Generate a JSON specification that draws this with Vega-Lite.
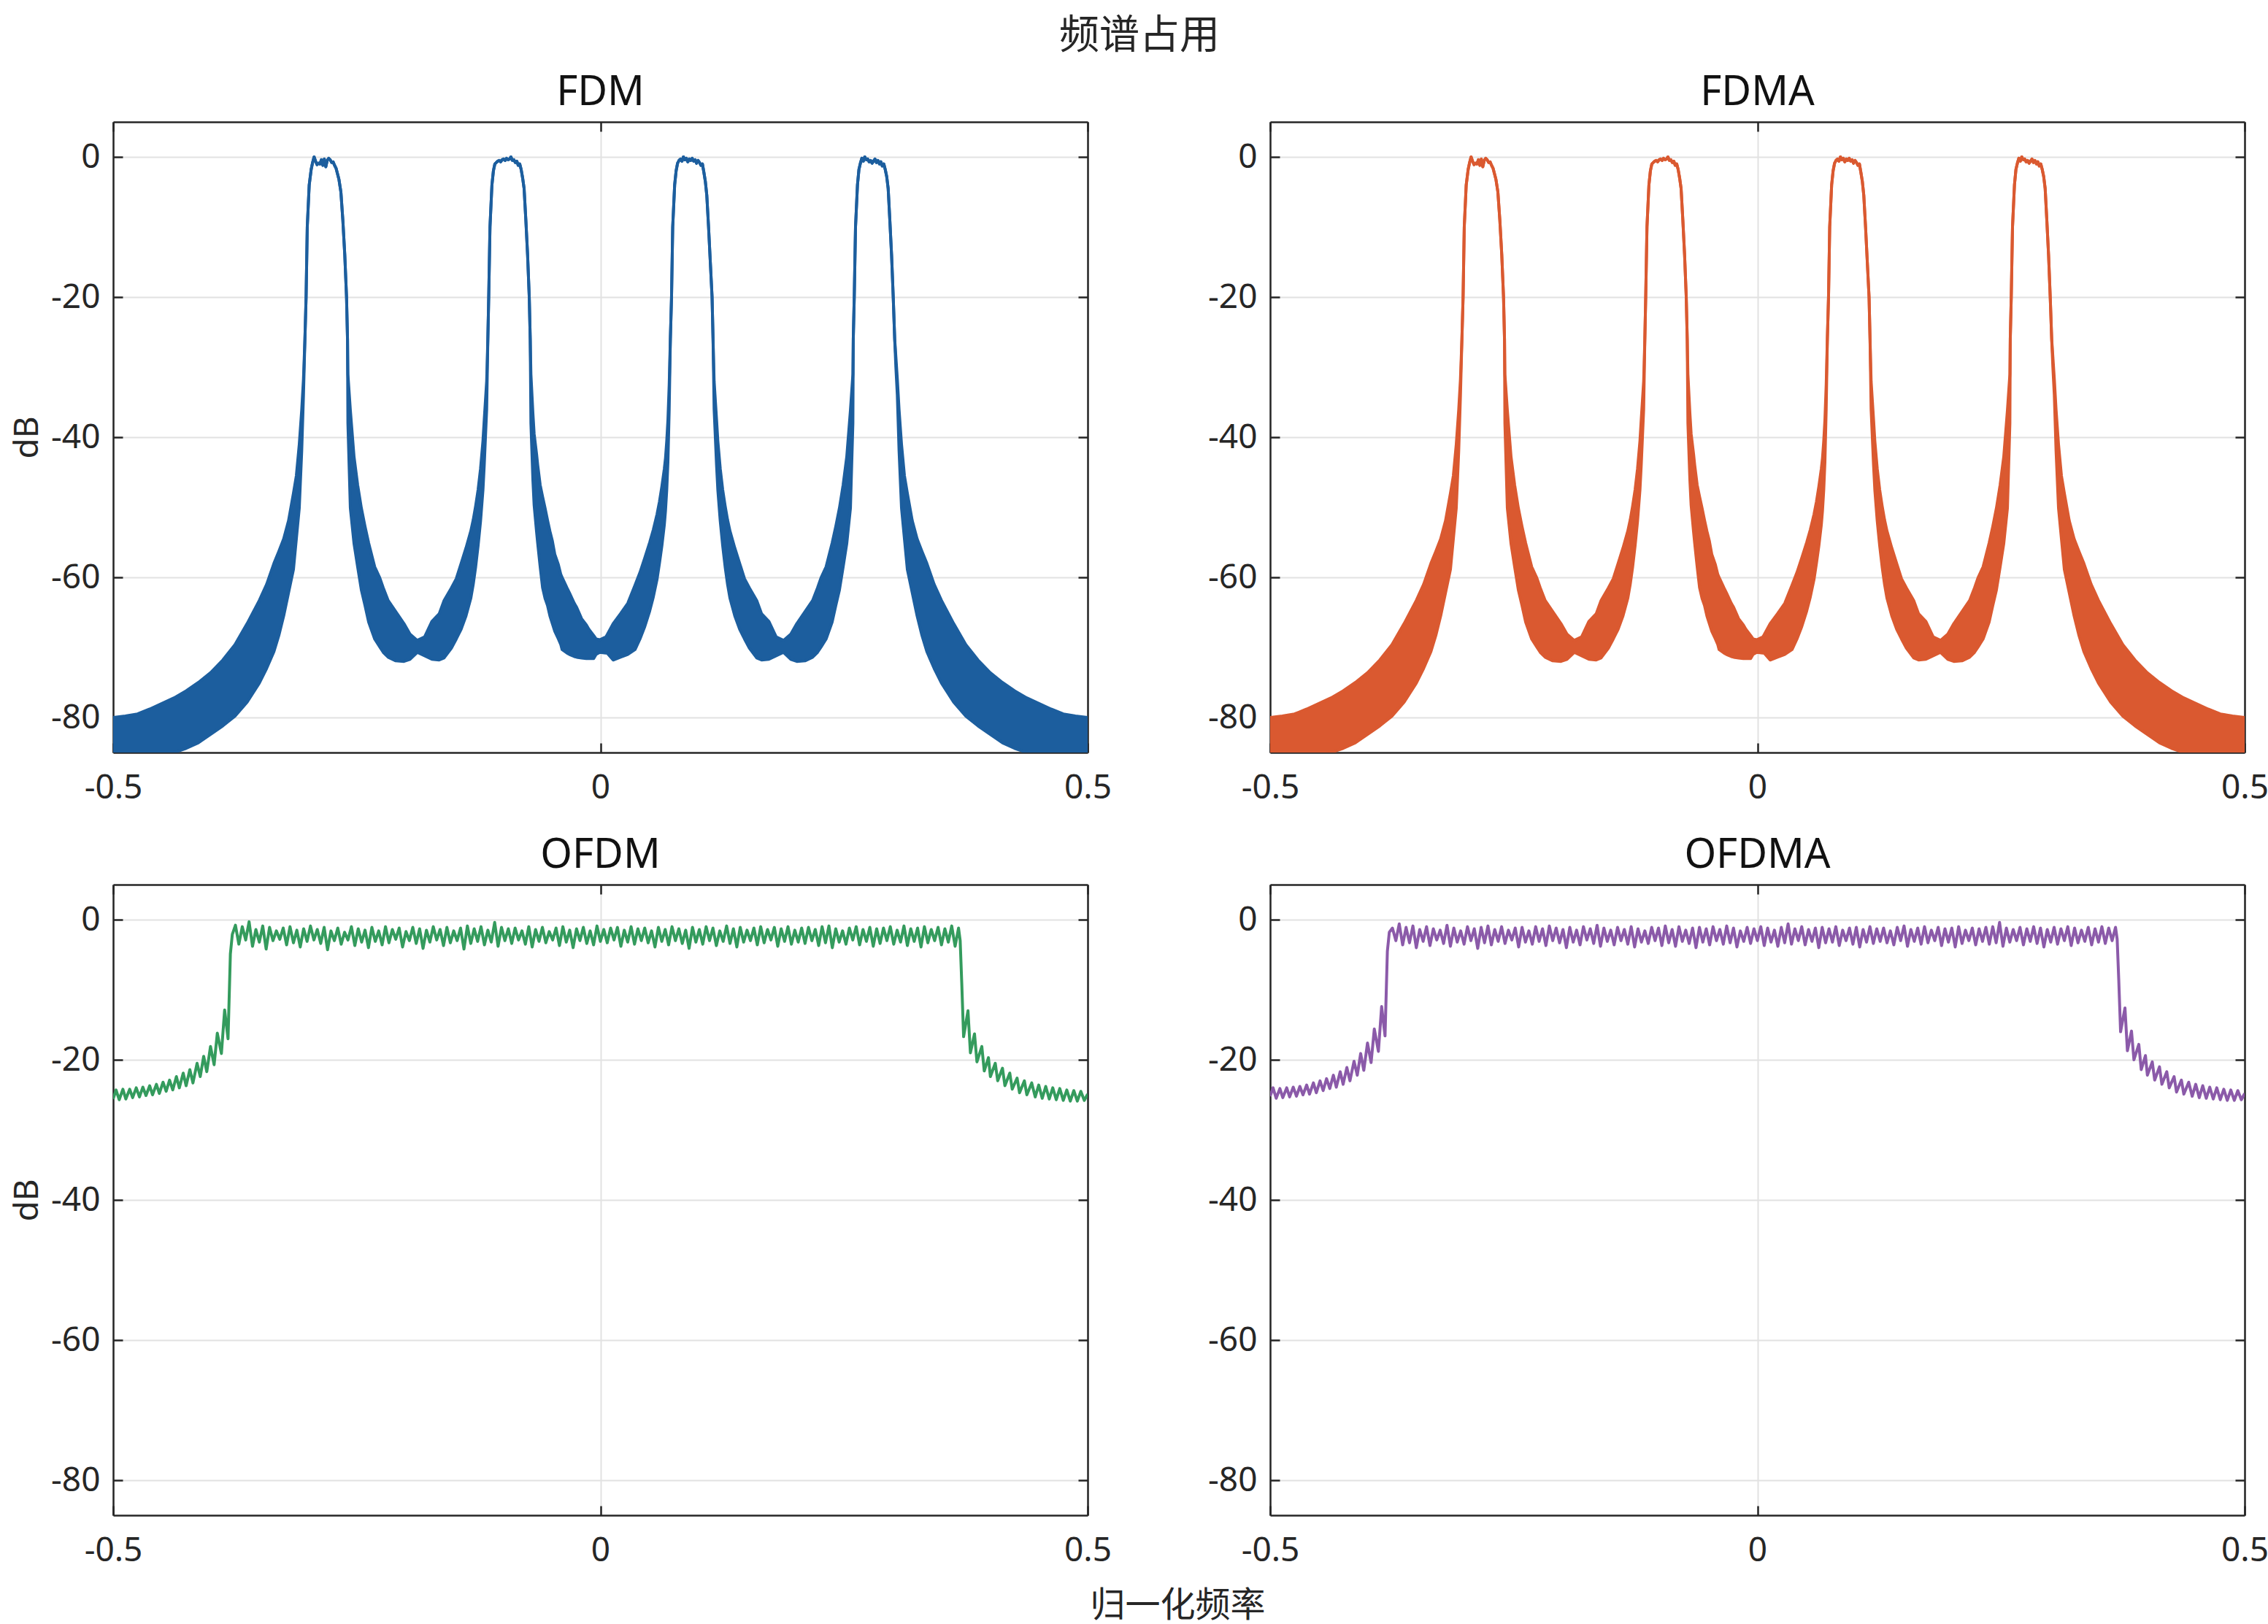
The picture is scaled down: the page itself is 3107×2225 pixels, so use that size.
{
  "$schema": "https://vega.github.io/schema/vega-lite/v6.json",
  "background": "white",
  "padding": {"left": 14, "top": 21, "right": 0, "bottom": 6},
  "title": {"text": "频谱占用", "font": "Noto Sans CJK SC", "fontSize": 55, "fontWeight": "normal", "color": "#262626", "anchor": "middle", "offset": 21},
  "config": {
    "view": {"stroke": null},
    "font": "Noto Sans",
    "title": {"font": "Noto Sans", "fontSize": 56, "fontWeight": "normal", "color": "#111111", "offset": 10},
    "axis": {
      "labelFont": "Noto Sans", "labelFontSize": 46, "labelColor": "#262626",
      "titleFont": "Noto Sans", "titleFontSize": 46, "titleFontWeight": "normal", "titleColor": "#262626",
      "domainColor": "#262626", "domainWidth": 2.5, "tickColor": "#262626", "tickWidth": 2.5, "tickSize": -13,
      "gridColor": "#e2e2e2", "gridWidth": 2, "labelFlush": false, "labelOverlap": false
    },
    "axisX": {"labelPadding": 39},
    "axisY": {"labelPadding": 31}
  },
  "datasets": {
    "fdm": [
      {"f":-0.5,"hi":-80.0,"lo":-87},{"f":-0.4875,"hi":-79.8,"lo":-87},{"f":-0.475,"hi":-79.5,"lo":-86.5},{"f":-0.4625,"hi":-78.8,"lo":-86},{"f":-0.45,"hi":-78.0,"lo":-85.6},{"f":-0.4375,"hi":-77.2,"lo":-85.0},{"f":-0.425,"hi":-76.2,"lo":-84.4},{"f":-0.4125,"hi":-75.0,"lo":-83.6},{"f":-0.4,"hi":-73.6,"lo":-82.4},{"f":-0.3875,"hi":-71.8,"lo":-81.2},{"f":-0.375,"hi":-69.6,"lo":-79.8},{"f":-0.3625,"hi":-66.6,"lo":-77.8},{"f":-0.35,"hi":-63.3,"lo":-75.1},{"f":-0.3425,"hi":-61.0,"lo":-73.0},{"f":-0.335,"hi":-58.0,"lo":-70.6},{"f":-0.33,"hi":-56.3,"lo":-68.3},{"f":-0.325,"hi":-54.5,"lo":-65.5},{"f":-0.32,"hi":-51.9,"lo":-62.2},{"f":-0.315,"hi":-48.0,"lo":-58.9},{"f":-0.312,"hi":-45.5,"lo":-54.5},{"f":-0.309,"hi":-41.0,"lo":-50.1},{"f":-0.3065,"hi":-36.1,"lo":-42},{"f":-0.3047,"hi":-31.7,"lo":-34},{"f":-0.3032,"hi":-26,"lo":-26},
      {"f":-0.302,"hi":-20,"lo":-20},{"f":-0.3008,"hi":-10,"lo":-10},{"f":-0.2988,"hi":-4,"lo":-4},{"f":-0.2968,"hi":-1.8,"lo":-1.8},{"f":-0.2953,"hi":-0.8,"lo":-0.8},{"f":-0.2938,"hi":0,"lo":0},{"f":-0.2923,"hi":-0.6,"lo":-0.6},{"f":-0.2908,"hi":-1.1,"lo":-1.1},{"f":-0.2893,"hi":-0.9,"lo":-0.9},{"f":-0.2878,"hi":-1.0,"lo":-1.0},{"f":-0.2863,"hi":-0.4,"lo":-0.4},{"f":-0.2848,"hi":-1.2,"lo":-1.2},{"f":-0.2833,"hi":-0.3,"lo":-0.3},{"f":-0.2818,"hi":-1.4,"lo":-1.4},{"f":-0.2803,"hi":-0.5,"lo":-0.5},{"f":-0.2788,"hi":-0.2,"lo":-0.2},{"f":-0.2773,"hi":-0.4,"lo":-0.4},{"f":-0.2758,"hi":-0.8,"lo":-0.8},{"f":-0.2743,"hi":-0.7,"lo":-0.7},{"f":-0.2728,"hi":-1.2,"lo":-1.2},{"f":-0.2713,"hi":-1.6,"lo":-1.6},{"f":-0.2698,"hi":-2.4,"lo":-2.4},{"f":-0.2683,"hi":-3.2,"lo":-3.2},{"f":-0.2663,"hi":-5,"lo":-5},{"f":-0.2643,"hi":-9,"lo":-9},{"f":-0.2623,"hi":-14,"lo":-14},{"f":-0.2605,"hi":-20,"lo":-20},{"f":-0.2595,"hi":-26,"lo":-26},
      {"f":-0.2591,"hi":-31,"lo":-38},{"f":-0.2566,"hi":-36.1,"lo":-50.1},{"f":-0.2528,"hi":-42.8,"lo":-55.2},{"f":-0.2491,"hi":-46.8,"lo":-58.5},{"f":-0.2453,"hi":-50.1,"lo":-61.8},{"f":-0.2416,"hi":-52.7,"lo":-64.0},{"f":-0.2378,"hi":-55.1,"lo":-66.4},{"f":-0.2316,"hi":-58.5,"lo":-68.8},{"f":-0.2266,"hi":-60.0,"lo":-69.9},{"f":-0.2228,"hi":-61.5,"lo":-70.7},{"f":-0.2178,"hi":-63.3,"lo":-71.4},{"f":-0.2104,"hi":-64.8,"lo":-71.9},{"f":-0.2016,"hi":-66.6,"lo":-72.0},{"f":-0.1954,"hi":-68.1,"lo":-71.7},{"f":-0.1879,"hi":-69.0,"lo":-70.7},{"f":-0.1804,"hi":-68.5,"lo":-71.2},{"f":-0.1729,"hi":-66.3,"lo":-71.7},{"f":-0.1654,"hi":-65.2,"lo":-71.8},{"f":-0.1604,"hi":-63.3,"lo":-71.5},{"f":-0.1529,"hi":-61.5,"lo":-70.1},{"f":-0.1479,"hi":-60.2,"lo":-68.8},{"f":-0.1429,"hi":-58.0,"lo":-67.4},{"f":-0.1379,"hi":-55.8,"lo":-65.5},{"f":-0.133,"hi":-53.4,"lo":-63.0},{"f":-0.1305,"hi":-51.8,"lo":-61.0},{"f":-0.128,"hi":-49.8,"lo":-58.5},{"f":-0.1255,"hi":-47.5,"lo":-55.5},{"f":-0.123,"hi":-44.5,"lo":-52.0},{"f":-0.1205,"hi":-40.5,"lo":-47.5},{"f":-0.1192,"hi":-37.5,"lo":-44.0},{"f":-0.1167,"hi":-32,"lo":-36},{"f":-0.1155,"hi":-26,"lo":-26},
      {"f":-0.1146,"hi":-20,"lo":-20},{"f":-0.1133,"hi":-10,"lo":-10},{"f":-0.1113,"hi":-4,"lo":-4},{"f":-0.1098,"hi":-2.0,"lo":-2.0},{"f":-0.1083,"hi":-1.0,"lo":-1.0},{"f":-0.1068,"hi":-0.8,"lo":-0.8},{"f":-0.1053,"hi":-0.6,"lo":-0.6},{"f":-0.1038,"hi":-0.5,"lo":-0.5},{"f":-0.1023,"hi":-0.7,"lo":-0.7},{"f":-0.1008,"hi":-0.4,"lo":-0.4},{"f":-0.0993,"hi":-0.3,"lo":-0.3},{"f":-0.0978,"hi":-0.5,"lo":-0.5},{"f":-0.0963,"hi":-0.2,"lo":-0.2},{"f":-0.0948,"hi":-0.4,"lo":-0.4},{"f":-0.0933,"hi":-0.3,"lo":-0.3},{"f":-0.0918,"hi":0,"lo":0},{"f":-0.0903,"hi":-0.5,"lo":-0.5},{"f":-0.0888,"hi":-0.4,"lo":-0.4},{"f":-0.0873,"hi":-0.8,"lo":-0.8},{"f":-0.0858,"hi":-0.6,"lo":-0.6},{"f":-0.0843,"hi":-1.2,"lo":-1.2},{"f":-0.0828,"hi":-1.0,"lo":-1.0},{"f":-0.0813,"hi":-1.8,"lo":-1.8},{"f":-0.0798,"hi":-3.0,"lo":-3.0},{"f":-0.0783,"hi":-4.5,"lo":-4.5},{"f":-0.0765,"hi":-9,"lo":-9},{"f":-0.0747,"hi":-14,"lo":-14},{"f":-0.073,"hi":-20,"lo":-20},{"f":-0.072,"hi":-26,"lo":-26},
      {"f":-0.0713,"hi":-31,"lo":-38},{"f":-0.0693,"hi":-36.5,"lo":-46},{"f":-0.068,"hi":-39.5,"lo":-49.7},{"f":-0.0655,"hi":-42.4,"lo":-53.5},{"f":-0.0643,"hi":-44,"lo":-55.2},{"f":-0.0618,"hi":-46.8,"lo":-58.5},{"f":-0.0593,"hi":-48.5,"lo":-61.5},{"f":-0.0568,"hi":-50.1,"lo":-63.0},{"f":-0.0543,"hi":-51.8,"lo":-64.0},{"f":-0.0518,"hi":-53.4,"lo":-65.5},{"f":-0.0493,"hi":-54.8,"lo":-66.6},{"f":-0.0468,"hi":-56.7,"lo":-67.7},{"f":-0.0431,"hi":-58.2,"lo":-68.8},{"f":-0.0406,"hi":-59.6,"lo":-69.6},{"f":-0.0393,"hi":-60.0,"lo":-70.3},{"f":-0.0343,"hi":-61.5,"lo":-70.8},{"f":-0.0318,"hi":-62.2,"lo":-71.0},{"f":-0.0268,"hi":-63.7,"lo":-71.3},{"f":-0.0243,"hi":-64.3,"lo":-71.4},{"f":-0.0193,"hi":-65.9,"lo":-71.5},{"f":-0.0144,"hi":-66.8,"lo":-71.6},{"f":-0.0119,"hi":-67.4,"lo":-71.6},{"f":-0.0069,"hi":-68.3,"lo":-71.6},{"f":-0.0044,"hi":-68.8,"lo":-71.0},{"f":-0.0006,"hi":-68.9,"lo":-70.7},{"f":0.0056,"hi":-68.5,"lo":-70.8},{"f":0.0069,"hi":-68.2,"lo":-70.8},{"f":0.0131,"hi":-66.6,"lo":-71.8},{"f":0.0206,"hi":-65.2,"lo":-71.4},{"f":0.0281,"hi":-63.7,"lo":-71.0},{"f":0.0356,"hi":-61.1,"lo":-70.3},{"f":0.0406,"hi":-59.3,"lo":-68.8},{"f":0.0456,"hi":-57.2,"lo":-67.0},{"f":0.0506,"hi":-55.0,"lo":-64.8},{"f":0.0543,"hi":-53.2,"lo":-62.8},{"f":0.0581,"hi":-51.0,"lo":-60.3},{"f":0.0606,"hi":-49.2,"lo":-58.0},{"f":0.0631,"hi":-47.0,"lo":-55.5},{"f":0.0656,"hi":-44.5,"lo":-52.5},{"f":0.0668,"hi":-43.0,"lo":-50.5},{"f":0.0681,"hi":-40.5,"lo":-47.5},{"f":0.0693,"hi":-37.5,"lo":-43.5},{"f":0.0706,"hi":-32.5,"lo":-36},{"f":0.0718,"hi":-26,"lo":-26},
      {"f":0.073,"hi":-20,"lo":-20},{"f":0.0742,"hi":-10,"lo":-10},{"f":0.0762,"hi":-4,"lo":-4},{"f":0.0777,"hi":-2.0,"lo":-2.0},{"f":0.0792,"hi":-0.9,"lo":-0.9},{"f":0.0807,"hi":-0.5,"lo":-0.5},{"f":0.0822,"hi":-0.3,"lo":-0.3},{"f":0.0837,"hi":-0.6,"lo":-0.6},{"f":0.0852,"hi":0,"lo":0},{"f":0.0867,"hi":-0.4,"lo":-0.4},{"f":0.0882,"hi":-0.2,"lo":-0.2},{"f":0.0897,"hi":-0.7,"lo":-0.7},{"f":0.0912,"hi":-0.3,"lo":-0.3},{"f":0.0927,"hi":-0.5,"lo":-0.5},{"f":0.0942,"hi":-0.2,"lo":-0.2},{"f":0.0957,"hi":-0.6,"lo":-0.6},{"f":0.0972,"hi":-0.4,"lo":-0.4},{"f":0.0987,"hi":-0.9,"lo":-0.9},{"f":0.1002,"hi":-0.5,"lo":-0.5},{"f":0.1017,"hi":-0.8,"lo":-0.8},{"f":0.1032,"hi":-1.2,"lo":-1.2},{"f":0.1047,"hi":-1.0,"lo":-1.0},{"f":0.1062,"hi":-2.2,"lo":-2.2},{"f":0.1077,"hi":-3.5,"lo":-3.5},{"f":0.1092,"hi":-5.5,"lo":-5.5},{"f":0.111,"hi":-10,"lo":-10},{"f":0.1128,"hi":-15,"lo":-15},{"f":0.1146,"hi":-20,"lo":-20},{"f":0.1156,"hi":-26,"lo":-26},
      {"f":0.1167,"hi":-32,"lo":-36},{"f":0.1192,"hi":-37.5,"lo":-44.0},{"f":0.1205,"hi":-40.5,"lo":-47.5},{"f":0.123,"hi":-44.5,"lo":-52.0},{"f":0.1255,"hi":-47.5,"lo":-55.5},{"f":0.128,"hi":-49.8,"lo":-58.5},{"f":0.1305,"hi":-51.8,"lo":-61.0},{"f":0.133,"hi":-53.4,"lo":-63.0},{"f":0.1379,"hi":-55.8,"lo":-65.5},{"f":0.1429,"hi":-58.0,"lo":-67.4},{"f":0.1479,"hi":-60.2,"lo":-68.8},{"f":0.1529,"hi":-61.5,"lo":-70.1},{"f":0.1604,"hi":-63.3,"lo":-71.5},{"f":0.1654,"hi":-65.2,"lo":-71.8},{"f":0.1729,"hi":-66.3,"lo":-71.7},{"f":0.1804,"hi":-68.5,"lo":-71.2},{"f":0.1879,"hi":-69.0,"lo":-70.7},{"f":0.1954,"hi":-68.1,"lo":-71.7},{"f":0.2016,"hi":-66.6,"lo":-72.0},{"f":0.2104,"hi":-64.8,"lo":-71.9},{"f":0.2178,"hi":-63.3,"lo":-71.4},{"f":0.2228,"hi":-61.5,"lo":-70.7},{"f":0.2266,"hi":-60.0,"lo":-69.9},{"f":0.2316,"hi":-58.5,"lo":-68.8},{"f":0.2378,"hi":-55.1,"lo":-66.4},{"f":0.2416,"hi":-52.7,"lo":-64.0},{"f":0.2453,"hi":-50.1,"lo":-61.8},{"f":0.2491,"hi":-46.8,"lo":-58.5},{"f":0.2528,"hi":-42.8,"lo":-55.2},{"f":0.2566,"hi":-36.1,"lo":-50.1},{"f":0.2591,"hi":-31,"lo":-38},
      {"f":0.2595,"hi":-26,"lo":-26},{"f":0.2605,"hi":-20,"lo":-20},{"f":0.2618,"hi":-10,"lo":-10},{"f":0.2638,"hi":-4,"lo":-4},{"f":0.2653,"hi":-1.8,"lo":-1.8},{"f":0.2668,"hi":-0.9,"lo":-0.9},{"f":0.2683,"hi":-0.2,"lo":-0.2},{"f":0.2698,"hi":-0.6,"lo":-0.6},{"f":0.2713,"hi":0,"lo":0},{"f":0.2728,"hi":-0.4,"lo":-0.4},{"f":0.2743,"hi":-0.3,"lo":-0.3},{"f":0.2758,"hi":-0.7,"lo":-0.7},{"f":0.2773,"hi":-0.5,"lo":-0.5},{"f":0.2788,"hi":-0.9,"lo":-0.9},{"f":0.2803,"hi":-0.6,"lo":-0.6},{"f":0.2818,"hi":-0.3,"lo":-0.3},{"f":0.2833,"hi":-0.8,"lo":-0.8},{"f":0.2848,"hi":-0.5,"lo":-0.5},{"f":0.2863,"hi":-1.0,"lo":-1.0},{"f":0.2878,"hi":-0.7,"lo":-0.7},{"f":0.2893,"hi":-1.3,"lo":-1.3},{"f":0.2908,"hi":-1.0,"lo":-1.0},{"f":0.2923,"hi":-1.8,"lo":-1.8},{"f":0.2938,"hi":-2.8,"lo":-2.8},{"f":0.2953,"hi":-4.5,"lo":-4.5},{"f":0.297,"hi":-9,"lo":-9},{"f":0.2988,"hi":-14,"lo":-14},{"f":0.3005,"hi":-20,"lo":-20},{"f":0.302,"hi":-26,"lo":-26},
      {"f":0.3032,"hi":-28.5,"lo":-30},{"f":0.3047,"hi":-31.7,"lo":-34},{"f":0.3065,"hi":-36.1,"lo":-42},{"f":0.309,"hi":-41.0,"lo":-50.1},{"f":0.312,"hi":-45.5,"lo":-54.5},{"f":0.315,"hi":-48.0,"lo":-58.9},{"f":0.32,"hi":-51.9,"lo":-62.2},{"f":0.325,"hi":-54.5,"lo":-65.5},{"f":0.33,"hi":-56.3,"lo":-68.3},{"f":0.335,"hi":-58.0,"lo":-70.6},{"f":0.3425,"hi":-61.0,"lo":-73.0},{"f":0.35,"hi":-63.3,"lo":-75.1},{"f":0.3625,"hi":-66.6,"lo":-77.8},{"f":0.375,"hi":-69.6,"lo":-79.8},{"f":0.3875,"hi":-71.8,"lo":-81.2},{"f":0.4,"hi":-73.6,"lo":-82.4},{"f":0.4125,"hi":-75.0,"lo":-83.6},{"f":0.425,"hi":-76.2,"lo":-84.4},{"f":0.4375,"hi":-77.2,"lo":-85.0},{"f":0.45,"hi":-78.0,"lo":-85.6},{"f":0.4625,"hi":-78.8,"lo":-86},{"f":0.475,"hi":-79.5,"lo":-86.5},{"f":0.4875,"hi":-79.8,"lo":-87},{"f":0.5,"hi":-80.0,"lo":-87}
    ],
    "ofdm": [
      {"f":-0.5,"v":-25.6},{"f":-0.497,"v":-24.3},{"f":-0.4938,"v":-25.7},{"f":-0.49,"v":-24.2},{"f":-0.487,"v":-25.6},{"f":-0.483,"v":-24.2},{"f":-0.48,"v":-25.4},{"f":-0.4763,"v":-24.0},{"f":-0.473,"v":-25.3},{"f":-0.4695,"v":-23.9},{"f":-0.4663,"v":-25.1},{"f":-0.4625,"v":-23.7},{"f":-0.4596,"v":-25.0},{"f":-0.4556,"v":-23.5},{"f":-0.4526,"v":-24.8},{"f":-0.4488,"v":-23.2},{"f":-0.4456,"v":-24.5},{"f":-0.4421,"v":-22.9},{"f":-0.4388,"v":-24.3},{"f":-0.4351,"v":-22.4},{"f":-0.4321,"v":-24.0},{"f":-0.4281,"v":-21.9},{"f":-0.4251,"v":-23.7},{"f":-0.4213,"v":-21.4},{"f":-0.4181,"v":-23.3},{"f":-0.4139,"v":-20.5},{"f":-0.4106,"v":-22.4},{"f":-0.4071,"v":-19.5},{"f":-0.4039,"v":-21.7},{"f":-0.4001,"v":-18.1},{"f":-0.3964,"v":-20.7},{"f":-0.3931,"v":-16.2},{"f":-0.3889,"v":-19.1},{"f":-0.3856,"v":-12.9},{"f":-0.3821,"v":-17.0},{"f":-0.3797,"v":-4.9},{"f":-0.3777,"v":-2.1},
      {"f":-0.3745,"v":-0.8},{"f":-0.371,"v":-3.5},{"f":-0.3675,"v":-1.0},{"f":-0.364,"v":-2.9},{"f":-0.3605,"v":-0.3},{"f":-0.357,"v":-3.8},{"f":-0.3535,"v":-1.4},{"f":-0.35,"v":-3.2},
      {"f":-0.3465,"v":-0.9},{"f":-0.343,"v":-4.2},{"f":-0.3395,"v":-1.1},{"f":-0.336,"v":-3.0},{"f":-0.3325,"v":-1.6},{"f":-0.329,"v":-2.8},{"f":-0.3255,"v":-1.2},{"f":-0.322,"v":-3.6},
      {"f":-0.3185,"v":-1.0},{"f":-0.315,"v":-3.3},{"f":-0.3115,"v":-1.5},{"f":-0.308,"v":-3.9},{"f":-0.3045,"v":-1.3},{"f":-0.301,"v":-3.1},{"f":-0.2975,"v":-0.9},{"f":-0.294,"v":-2.9},
      {"f":-0.2905,"v":-1.4},{"f":-0.287,"v":-3.4},{"f":-0.2835,"v":-1.1},{"f":-0.28,"v":-4.3},{"f":-0.2765,"v":-1.6},{"f":-0.273,"v":-3.0},{"f":-0.2695,"v":-1.2},{"f":-0.266,"v":-3.5},
      {"f":-0.2625,"v":-1.8},{"f":-0.259,"v":-2.9},{"f":-0.2555,"v":-1.0},{"f":-0.252,"v":-3.7},{"f":-0.2485,"v":-1.3},{"f":-0.245,"v":-3.2},{"f":-0.2415,"v":-1.5},{"f":-0.238,"v":-4.0},
      {"f":-0.2345,"v":-1.1},{"f":-0.231,"v":-3.1},{"f":-0.2275,"v":-1.6},{"f":-0.224,"v":-3.6},{"f":-0.2205,"v":-1.0},{"f":-0.217,"v":-3.3},{"f":-0.2135,"v":-1.4},{"f":-0.21,"v":-2.8},
      {"f":-0.2065,"v":-1.2},{"f":-0.203,"v":-3.9},{"f":-0.1995,"v":-1.7},{"f":-0.196,"v":-3.0},{"f":-0.1925,"v":-1.1},{"f":-0.189,"v":-3.4},{"f":-0.1855,"v":-1.3},{"f":-0.182,"v":-4.1},
      {"f":-0.1785,"v":-1.5},{"f":-0.175,"v":-3.2},{"f":-0.1715,"v":-1.0},{"f":-0.168,"v":-2.9},{"f":-0.1645,"v":-1.4},{"f":-0.161,"v":-3.7},{"f":-0.1575,"v":-1.1},{"f":-0.154,"v":-3.3},
      {"f":-0.1505,"v":-1.6},{"f":-0.147,"v":-3.0},{"f":-0.1435,"v":-1.2},{"f":-0.14,"v":-4.2},{"f":-0.1365,"v":-0.9},{"f":-0.133,"v":-3.4},{"f":-0.1295,"v":-1.3},{"f":-0.126,"v":-3.1},
      {"f":-0.1225,"v":-1.0},{"f":-0.119,"v":-3.6},{"f":-0.1155,"v":-1.5},{"f":-0.112,"v":-3.2},{"f":-0.1085,"v":-0.4},{"f":-0.105,"v":-3.8},{"f":-0.1015,"v":-1.1},{"f":-0.098,"v":-3.0},
      {"f":-0.0945,"v":-1.3},{"f":-0.091,"v":-3.4},{"f":-0.0875,"v":-1.2},{"f":-0.084,"v":-2.9},{"f":-0.0805,"v":-1.6},{"f":-0.077,"v":-3.5},{"f":-0.0735,"v":-1.0},{"f":-0.07,"v":-3.9},
      {"f":-0.0665,"v":-1.4},{"f":-0.063,"v":-3.1},{"f":-0.0595,"v":-1.1},{"f":-0.056,"v":-3.3},{"f":-0.0525,"v":-1.7},{"f":-0.049,"v":-2.9},{"f":-0.0455,"v":-1.2},{"f":-0.042,"v":-3.7},
      {"f":-0.0385,"v":-1.0},{"f":-0.035,"v":-3.2},{"f":-0.0315,"v":-1.5},{"f":-0.028,"v":-4.0},{"f":-0.0245,"v":-1.3},{"f":-0.021,"v":-3.0},{"f":-0.0175,"v":-1.1},{"f":-0.014,"v":-3.4},
      {"f":-0.0105,"v":-1.6},{"f":-0.007,"v":-3.6},{"f":-0.0035,"v":-0.9},{"f":0,"v":-3.1},{"f":0.0035,"v":-1.4},{"f":0.007,"v":-3.3},{"f":0.0105,"v":-1.2},{"f":0.014,"v":-2.9},
      {"f":0.0175,"v":-1.1},{"f":0.021,"v":-3.8},{"f":0.0245,"v":-1.5},{"f":0.028,"v":-3.2},{"f":0.0315,"v":-1.0},{"f":0.035,"v":-3.5},{"f":0.0385,"v":-1.3},{"f":0.042,"v":-3.0},
      {"f":0.0455,"v":-1.2},{"f":0.049,"v":-3.3},{"f":0.0525,"v":-1.6},{"f":0.056,"v":-3.9},{"f":0.0595,"v":-1.1},{"f":0.063,"v":-3.1},{"f":0.0665,"v":-1.4},{"f":0.07,"v":-3.6},
      {"f":0.0735,"v":-1.0},{"f":0.077,"v":-3.0},{"f":0.0805,"v":-1.3},{"f":0.084,"v":-3.4},{"f":0.0875,"v":-1.5},{"f":0.091,"v":-4.1},{"f":0.0945,"v":-1.1},{"f":0.098,"v":-3.2},
      {"f":0.1015,"v":-1.4},{"f":0.105,"v":-3.5},{"f":0.1085,"v":-1.0},{"f":0.112,"v":-3.0},{"f":0.1155,"v":-1.2},{"f":0.119,"v":-3.7},{"f":0.1225,"v":-1.6},{"f":0.126,"v":-3.1},
      {"f":0.1295,"v":-0.9},{"f":0.133,"v":-3.4},{"f":0.1365,"v":-1.3},{"f":0.14,"v":-3.9},{"f":0.1435,"v":-1.1},{"f":0.147,"v":-3.2},{"f":0.1505,"v":-1.5},{"f":0.154,"v":-3.0},
      {"f":0.1575,"v":-1.2},{"f":0.161,"v":-3.6},{"f":0.1645,"v":-1.0},{"f":0.168,"v":-3.3},{"f":0.1715,"v":-1.4},{"f":0.175,"v":-2.9},{"f":0.1785,"v":-1.1},{"f":0.182,"v":-3.8},
      {"f":0.1855,"v":-1.3},{"f":0.189,"v":-3.1},{"f":0.1925,"v":-1.0},{"f":0.196,"v":-3.5},{"f":0.1995,"v":-1.5},{"f":0.203,"v":-3.2},{"f":0.2065,"v":-1.2},{"f":0.21,"v":-3.4},
      {"f":0.2135,"v":-1.1},{"f":0.217,"v":-3.0},{"f":0.2205,"v":-1.4},{"f":0.224,"v":-3.7},{"f":0.2275,"v":-1.0},{"f":0.231,"v":-3.3},{"f":0.2345,"v":-0.9},{"f":0.238,"v":-4.0},
      {"f":0.2415,"v":-1.3},{"f":0.245,"v":-3.2},{"f":0.2485,"v":-1.6},{"f":0.252,"v":-3.5},{"f":0.2555,"v":-1.2},{"f":0.259,"v":-2.9},{"f":0.2625,"v":-1.0},{"f":0.266,"v":-3.6},
      {"f":0.2695,"v":-1.4},{"f":0.273,"v":-3.1},{"f":0.2765,"v":-1.1},{"f":0.28,"v":-3.8},{"f":0.2835,"v":-1.3},{"f":0.287,"v":-3.4},{"f":0.2905,"v":-1.2},{"f":0.294,"v":-3.0},
      {"f":0.2975,"v":-1.0},{"f":0.301,"v":-3.5},{"f":0.3045,"v":-1.5},{"f":0.308,"v":-3.2},{"f":0.3115,"v":-0.9},{"f":0.315,"v":-3.7},{"f":0.3185,"v":-1.3},{"f":0.322,"v":-3.1},
      {"f":0.3255,"v":-1.2},{"f":0.329,"v":-3.9},{"f":0.3325,"v":-1.0},{"f":0.336,"v":-3.3},{"f":0.3395,"v":-1.4},{"f":0.343,"v":-3.0},{"f":0.3465,"v":-1.1},{"f":0.35,"v":-3.6},
      {"f":0.3535,"v":-1.3},{"f":0.357,"v":-3.2},{"f":0.3605,"v":-0.9},{"f":0.364,"v":-3.8},{"f":0.3675,"v":-1.2},
      {"f":0.3692,"v":-3.0},{"f":0.3708,"v":-9.0},{"f":0.3727,"v":-16.7},{"f":0.3772,"v":-13.0},{"f":0.3797,"v":-19.0},{"f":0.3839,"v":-16.3},{"f":0.3864,"v":-20.3},{"f":0.3914,"v":-18.1},{"f":0.3939,"v":-21.6},{"f":0.3982,"v":-19.7},{"f":0.4002,"v":-22.4},{"f":0.4052,"v":-20.5},{"f":0.4077,"v":-23.0},{"f":0.4126,"v":-21.2},{"f":0.4151,"v":-23.7},{"f":0.4201,"v":-21.9},{"f":0.4226,"v":-24.2},{"f":0.4276,"v":-22.6},{"f":0.4301,"v":-24.7},{"f":0.4351,"v":-23.0},{"f":0.4376,"v":-25.0},{"f":0.4426,"v":-23.3},{"f":0.4462,"v":-25.3},{"f":0.4498,"v":-23.6},{"f":0.4534,"v":-25.5},{"f":0.457,"v":-23.8},{"f":0.4606,"v":-25.6},{"f":0.4642,"v":-24.0},{"f":0.4678,"v":-25.7},{"f":0.4714,"v":-24.1},{"f":0.475,"v":-25.8},{"f":0.4786,"v":-24.3},{"f":0.4822,"v":-25.9},{"f":0.4858,"v":-24.4},{"f":0.4894,"v":-25.9},{"f":0.493,"v":-24.5},{"f":0.4966,"v":-25.8},{"f":0.5,"v":-24.9}
    ],
    "ofdma": [
      {"f":-0.5,"v":-25.2},{"f":-0.497,"v":-24.0},{"f":-0.4938,"v":-25.5},{"f":-0.49,"v":-24.1},{"f":-0.487,"v":-25.4},{"f":-0.483,"v":-24.0},{"f":-0.48,"v":-25.3},{"f":-0.4763,"v":-23.9},{"f":-0.473,"v":-25.2},{"f":-0.4695,"v":-23.8},{"f":-0.4663,"v":-25.0},{"f":-0.4625,"v":-23.6},{"f":-0.4596,"v":-24.9},{"f":-0.4556,"v":-23.3},{"f":-0.4526,"v":-24.7},{"f":-0.4488,"v":-23.0},{"f":-0.4456,"v":-24.4},{"f":-0.4421,"v":-22.7},{"f":-0.4388,"v":-24.1},{"f":-0.4351,"v":-22.2},{"f":-0.4321,"v":-23.9},{"f":-0.4281,"v":-21.7},{"f":-0.4251,"v":-23.5},{"f":-0.4213,"v":-21.1},{"f":-0.4181,"v":-23.0},{"f":-0.4139,"v":-20.2},{"f":-0.4106,"v":-22.2},{"f":-0.4071,"v":-19.1},{"f":-0.4039,"v":-21.5},{"f":-0.4001,"v":-17.6},{"f":-0.3964,"v":-20.4},{"f":-0.3931,"v":-15.6},{"f":-0.3889,"v":-18.8},{"f":-0.3856,"v":-12.4},{"f":-0.3821,"v":-16.6},{"f":-0.3797,"v":-4.5},{"f":-0.3777,"v":-1.8},
      {"f":-0.3745,"v":-1.2},{"f":-0.371,"v":-3.0},{"f":-0.3675,"v":-0.6},{"f":-0.364,"v":-3.6},{"f":-0.3605,"v":-1.1},{"f":-0.357,"v":-3.3},{"f":-0.3535,"v":-0.9},{"f":-0.35,"v":-4.0},
      {"f":-0.3465,"v":-1.4},{"f":-0.343,"v":-3.1},{"f":-0.3395,"v":-1.0},{"f":-0.336,"v":-3.7},{"f":-0.3325,"v":-1.3},{"f":-0.329,"v":-2.9},{"f":-0.3255,"v":-1.5},{"f":-0.322,"v":-3.4},
      {"f":-0.3185,"v":-0.8},{"f":-0.315,"v":-3.8},{"f":-0.3115,"v":-1.2},{"f":-0.308,"v":-3.2},{"f":-0.3045,"v":-1.6},{"f":-0.301,"v":-3.5},{"f":-0.2975,"v":-1.0},{"f":-0.294,"v":-3.0},
      {"f":-0.2905,"v":-1.3},{"f":-0.287,"v":-4.1},{"f":-0.2835,"v":-1.1},{"f":-0.28,"v":-3.3},{"f":-0.2765,"v":-0.9},{"f":-0.273,"v":-3.6},{"f":-0.2695,"v":-1.4},{"f":-0.266,"v":-3.1},
      {"f":-0.2625,"v":-1.0},{"f":-0.259,"v":-3.4},{"f":-0.2555,"v":-1.5},{"f":-0.252,"v":-2.9},{"f":-0.2485,"v":-1.2},{"f":-0.245,"v":-3.9},{"f":-0.2415,"v":-1.1},{"f":-0.238,"v":-3.2},
      {"f":-0.2345,"v":-1.6},{"f":-0.231,"v":-3.5},{"f":-0.2275,"v":-1.0},{"f":-0.224,"v":-3.1},{"f":-0.2205,"v":-1.3},{"f":-0.217,"v":-3.7},{"f":-0.2135,"v":-0.9},{"f":-0.21,"v":-3.0},
      {"f":-0.2065,"v":-1.2},{"f":-0.203,"v":-3.3},{"f":-0.1995,"v":-1.4},{"f":-0.196,"v":-4.0},{"f":-0.1925,"v":-1.1},{"f":-0.189,"v":-3.2},{"f":-0.1855,"v":-1.5},{"f":-0.182,"v":-3.6},
      {"f":-0.1785,"v":-1.0},{"f":-0.175,"v":-2.9},{"f":-0.1715,"v":-1.3},{"f":-0.168,"v":-3.4},{"f":-0.1645,"v":-0.8},{"f":-0.161,"v":-3.8},{"f":-0.1575,"v":-1.2},{"f":-0.154,"v":-3.1},
      {"f":-0.1505,"v":-1.5},{"f":-0.147,"v":-3.6},{"f":-0.1435,"v":-1.1},{"f":-0.14,"v":-3.0},{"f":-0.1365,"v":-1.4},{"f":-0.133,"v":-3.5},{"f":-0.1295,"v":-1.0},{"f":-0.126,"v":-3.9},
      {"f":-0.1225,"v":-1.3},{"f":-0.119,"v":-3.2},{"f":-0.1155,"v":-1.6},{"f":-0.112,"v":-3.4},{"f":-0.1085,"v":-1.1},{"f":-0.105,"v":-3.0},{"f":-0.1015,"v":-1.2},{"f":-0.098,"v":-3.7},
      {"f":-0.0945,"v":-0.9},{"f":-0.091,"v":-3.3},{"f":-0.0875,"v":-1.4},{"f":-0.084,"v":-3.8},{"f":-0.0805,"v":-1.0},{"f":-0.077,"v":-3.1},{"f":-0.0735,"v":-1.5},{"f":-0.07,"v":-3.4},
      {"f":-0.0665,"v":-1.2},{"f":-0.063,"v":-4.0},{"f":-0.0595,"v":-1.1},{"f":-0.056,"v":-3.2},{"f":-0.0525,"v":-1.3},{"f":-0.049,"v":-3.6},{"f":-0.0455,"v":-1.0},{"f":-0.042,"v":-3.0},
      {"f":-0.0385,"v":-1.4},{"f":-0.035,"v":-3.5},{"f":-0.0315,"v":-0.9},{"f":-0.028,"v":-3.3},{"f":-0.0245,"v":-1.2},{"f":-0.021,"v":-3.9},{"f":-0.0175,"v":-1.6},{"f":-0.014,"v":-3.1},
      {"f":-0.0105,"v":-1.1},{"f":-0.007,"v":-3.4},{"f":-0.0035,"v":-1.3},{"f":0,"v":-3.0},{"f":0.0035,"v":-1.0},{"f":0.007,"v":-3.7},{"f":0.0105,"v":-1.2},{"f":0.014,"v":-3.2},
      {"f":0.0175,"v":-1.5},{"f":0.021,"v":-3.8},{"f":0.0245,"v":-1.1},{"f":0.028,"v":-3.3},{"f":0.0315,"v":-0.6},{"f":0.035,"v":-3.5},{"f":0.0385,"v":-1.3},{"f":0.042,"v":-3.0},
      {"f":0.0455,"v":-1.0},{"f":0.049,"v":-3.6},{"f":0.0525,"v":-1.4},{"f":0.056,"v":-3.1},{"f":0.0595,"v":-1.2},{"f":0.063,"v":-4.0},{"f":0.0665,"v":-1.1},{"f":0.07,"v":-3.3},
      {"f":0.0735,"v":-1.3},{"f":0.077,"v":-3.2},{"f":0.0805,"v":-1.0},{"f":0.084,"v":-3.7},{"f":0.0875,"v":-1.5},{"f":0.091,"v":-3.0},{"f":0.0945,"v":-1.2},{"f":0.098,"v":-3.5},
      {"f":0.1015,"v":-1.1},{"f":0.105,"v":-3.9},{"f":0.1085,"v":-1.4},{"f":0.112,"v":-3.2},{"f":0.1155,"v":-1.0},{"f":0.119,"v":-3.4},{"f":0.1225,"v":-1.3},{"f":0.126,"v":-3.1},
      {"f":0.1295,"v":-1.2},{"f":0.133,"v":-3.3},{"f":0.1365,"v":-1.6},{"f":0.14,"v":-3.6},{"f":0.1435,"v":-1.1},{"f":0.147,"v":-3.0},{"f":0.1505,"v":-0.9},{"f":0.154,"v":-3.8},
      {"f":0.1575,"v":-1.4},{"f":0.161,"v":-3.1},{"f":0.1645,"v":-1.2},{"f":0.168,"v":-3.5},{"f":0.1715,"v":-1.0},{"f":0.175,"v":-3.3},{"f":0.1785,"v":-1.5},{"f":0.182,"v":-3.0},
      {"f":0.1855,"v":-1.1},{"f":0.189,"v":-3.7},{"f":0.1925,"v":-1.3},{"f":0.196,"v":-3.2},{"f":0.1995,"v":-1.2},{"f":0.203,"v":-3.9},{"f":0.2065,"v":-1.0},{"f":0.21,"v":-3.4},
      {"f":0.2135,"v":-1.5},{"f":0.217,"v":-3.0},{"f":0.2205,"v":-1.2},{"f":0.224,"v":-3.6},{"f":0.2275,"v":-1.3},{"f":0.231,"v":-3.1},{"f":0.2345,"v":-1.1},{"f":0.238,"v":-3.5},
      {"f":0.2415,"v":-1.0},{"f":0.245,"v":-3.3},{"f":0.2485,"v":-0.4},{"f":0.252,"v":-3.8},{"f":0.2555,"v":-1.2},{"f":0.259,"v":-3.2},{"f":0.2625,"v":-1.4},{"f":0.266,"v":-3.0},
      {"f":0.2695,"v":-1.1},{"f":0.273,"v":-3.6},{"f":0.2765,"v":-1.3},{"f":0.28,"v":-3.1},{"f":0.2835,"v":-1.0},{"f":0.287,"v":-3.4},{"f":0.2905,"v":-1.2},{"f":0.294,"v":-3.9},
      {"f":0.2975,"v":-1.4},{"f":0.301,"v":-3.2},{"f":0.3045,"v":-1.1},{"f":0.308,"v":-3.5},{"f":0.3115,"v":-1.3},{"f":0.315,"v":-3.0},{"f":0.3185,"v":-1.0},{"f":0.322,"v":-3.7},
      {"f":0.3255,"v":-1.2},{"f":0.329,"v":-3.3},{"f":0.3325,"v":-1.5},{"f":0.336,"v":-3.1},{"f":0.3395,"v":-1.1},{"f":0.343,"v":-3.6},{"f":0.3465,"v":-1.3},{"f":0.35,"v":-3.2},
      {"f":0.3535,"v":-1.0},{"f":0.357,"v":-3.4},{"f":0.3605,"v":-1.2},{"f":0.364,"v":-3.0},{"f":0.3675,"v":-1.1},
      {"f":0.3692,"v":-2.8},{"f":0.3708,"v":-8.5},{"f":0.3727,"v":-16.0},{"f":0.3772,"v":-12.6},{"f":0.3797,"v":-18.7},{"f":0.3839,"v":-15.9},{"f":0.3864,"v":-20.0},{"f":0.3914,"v":-17.8},{"f":0.3939,"v":-21.4},{"f":0.3982,"v":-19.4},{"f":0.4002,"v":-22.2},{"f":0.4052,"v":-20.3},{"f":0.4077,"v":-22.9},{"f":0.4126,"v":-21.0},{"f":0.4151,"v":-23.5},{"f":0.4201,"v":-21.7},{"f":0.4226,"v":-24.0},{"f":0.4276,"v":-22.4},{"f":0.4301,"v":-24.6},{"f":0.4351,"v":-22.9},{"f":0.4376,"v":-24.9},{"f":0.4426,"v":-23.2},{"f":0.4462,"v":-25.2},{"f":0.4498,"v":-23.5},{"f":0.4534,"v":-25.4},{"f":0.457,"v":-23.7},{"f":0.4606,"v":-25.5},{"f":0.4642,"v":-23.9},{"f":0.4678,"v":-25.6},{"f":0.4714,"v":-24.0},{"f":0.475,"v":-25.7},{"f":0.4786,"v":-24.2},{"f":0.4822,"v":-25.8},{"f":0.4858,"v":-24.3},{"f":0.4894,"v":-25.8},{"f":0.493,"v":-24.4},{"f":0.4966,"v":-25.7},{"f":0.5,"v":-24.8}
    ]
  },
  "columns": 2,
  "spacing": {"row": 181, "column": 250},
  "bounds": "flush",
  "concat": [
    {
      "width": 1335, "height": 864,
      "title": {"text": "FDM"},
      "data": {"name": "fdm"},
      "resolve": {"axis": {"x": "independent", "y": "independent"}},
      "layer": [
        {"mark": {"type": "area", "color": "#1c5e9e", "clip": true},
         "encoding": {
           "x": {"field": "f", "type": "quantitative", "scale": {"domain": [-0.5, 0.5], "nice": false}, "axis": {"orient": "bottom", "values": [-0.5, 0, 0.5], "labelExpr": "'' + datum.value", "title": null, "grid": true}},
           "y": {"field": "hi", "type": "quantitative", "scale": {"domain": [-85, 5], "nice": false, "zero": false}, "axis": {"orient": "left", "values": [-80, -60, -40, -20, 0], "labelExpr": "'' + datum.value", "title": "dB", "titlePadding": 8, "grid": true}},
           "y2": {"field": "lo"}}},
        {"mark": {"type": "line", "color": "#1c5e9e", "strokeWidth": 4, "clip": true, "strokeJoin": "round"},
         "encoding": {
           "x": {"field": "f", "type": "quantitative", "scale": {"domain": [-0.5, 0.5], "nice": false}, "axis": {"orient": "top", "values": [-0.5, 0, 0.5], "labels": false, "title": null, "grid": false}},
           "y": {"field": "hi", "type": "quantitative", "scale": {"domain": [-85, 5], "nice": false, "zero": false}, "axis": {"orient": "right", "values": [-80, -60, -40, -20, 0], "labels": false, "title": null, "grid": false}}}},
        {"mark": {"type": "line", "color": "#1c5e9e", "strokeWidth": 4, "clip": true, "strokeJoin": "round"},
         "encoding": {
           "x": {"field": "f", "type": "quantitative", "scale": {"domain": [-0.5, 0.5], "nice": false}, "axis": null},
           "y": {"field": "lo", "type": "quantitative", "scale": {"domain": [-85, 5], "nice": false, "zero": false}, "axis": null}}}
      ]
    },
    {
      "width": 1335, "height": 864,
      "title": {"text": "FDMA"},
      "data": {"name": "fdm"},
      "resolve": {"axis": {"x": "independent", "y": "independent"}},
      "layer": [
        {"mark": {"type": "area", "color": "#da5930", "clip": true},
         "encoding": {
           "x": {"field": "f", "type": "quantitative", "scale": {"domain": [-0.5, 0.5], "nice": false}, "axis": {"orient": "bottom", "values": [-0.5, 0, 0.5], "labelExpr": "'' + datum.value", "title": null, "grid": true}},
           "y": {"field": "hi", "type": "quantitative", "scale": {"domain": [-85, 5], "nice": false, "zero": false}, "axis": {"orient": "left", "values": [-80, -60, -40, -20, 0], "labelExpr": "'' + datum.value", "title": null, "grid": true}},
           "y2": {"field": "lo"}}},
        {"mark": {"type": "line", "color": "#da5930", "strokeWidth": 4, "clip": true, "strokeJoin": "round"},
         "encoding": {
           "x": {"field": "f", "type": "quantitative", "scale": {"domain": [-0.5, 0.5], "nice": false}, "axis": {"orient": "top", "values": [-0.5, 0, 0.5], "labels": false, "title": null, "grid": false}},
           "y": {"field": "hi", "type": "quantitative", "scale": {"domain": [-85, 5], "nice": false, "zero": false}, "axis": {"orient": "right", "values": [-80, -60, -40, -20, 0], "labels": false, "title": null, "grid": false}}}},
        {"mark": {"type": "line", "color": "#da5930", "strokeWidth": 4, "clip": true, "strokeJoin": "round"},
         "encoding": {
           "x": {"field": "f", "type": "quantitative", "scale": {"domain": [-0.5, 0.5], "nice": false}, "axis": null},
           "y": {"field": "lo", "type": "quantitative", "scale": {"domain": [-85, 5], "nice": false, "zero": false}, "axis": null}}}
      ]
    },
    {
      "width": 1335, "height": 864,
      "title": {"text": "OFDM"},
      "data": {"name": "ofdm"},
      "resolve": {"axis": {"x": "independent", "y": "independent"}},
      "layer": [
        {"mark": {"type": "line", "color": "#349b5d", "strokeWidth": 4, "clip": true, "strokeJoin": "round"},
         "encoding": {
           "x": {"field": "f", "type": "quantitative", "scale": {"domain": [-0.5, 0.5], "nice": false}, "axis": {"orient": "bottom", "values": [-0.5, 0, 0.5], "labelExpr": "'' + datum.value", "grid": true, "title": "归一化频率", "titleFont": "Noto Sans CJK SC", "titleFontSize": 48, "titleX": 1458, "titleY": 138, "titleAlign": "center", "titleBaseline": "alphabetic", "titleAngle": 0}},
           "y": {"field": "v", "type": "quantitative", "scale": {"domain": [-85, 5], "nice": false, "zero": false}, "axis": {"orient": "left", "values": [-80, -60, -40, -20, 0], "labelExpr": "'' + datum.value", "title": "dB", "titlePadding": 8, "grid": true}}}},
        {"mark": {"type": "line", "color": "#349b5d", "strokeWidth": 4, "opacity": 0, "clip": true},
         "encoding": {
           "x": {"field": "f", "type": "quantitative", "scale": {"domain": [-0.5, 0.5], "nice": false}, "axis": {"orient": "top", "values": [-0.5, 0, 0.5], "labels": false, "title": null, "grid": false}},
           "y": {"field": "v", "type": "quantitative", "scale": {"domain": [-85, 5], "nice": false, "zero": false}, "axis": {"orient": "right", "values": [-80, -60, -40, -20, 0], "labels": false, "title": null, "grid": false}}}}
      ]
    },
    {
      "width": 1335, "height": 864,
      "title": {"text": "OFDMA"},
      "data": {"name": "ofdma"},
      "resolve": {"axis": {"x": "independent", "y": "independent"}},
      "layer": [
        {"mark": {"type": "line", "color": "#8b5aa9", "strokeWidth": 4, "clip": true, "strokeJoin": "round"},
         "encoding": {
           "x": {"field": "f", "type": "quantitative", "scale": {"domain": [-0.5, 0.5], "nice": false}, "axis": {"orient": "bottom", "values": [-0.5, 0, 0.5], "labelExpr": "'' + datum.value", "title": null, "grid": true}},
           "y": {"field": "v", "type": "quantitative", "scale": {"domain": [-85, 5], "nice": false, "zero": false}, "axis": {"orient": "left", "values": [-80, -60, -40, -20, 0], "labelExpr": "'' + datum.value", "title": null, "grid": true}}}},
        {"mark": {"type": "line", "color": "#8b5aa9", "strokeWidth": 4, "opacity": 0, "clip": true},
         "encoding": {
           "x": {"field": "f", "type": "quantitative", "scale": {"domain": [-0.5, 0.5], "nice": false}, "axis": {"orient": "top", "values": [-0.5, 0, 0.5], "labels": false, "title": null, "grid": false}},
           "y": {"field": "v", "type": "quantitative", "scale": {"domain": [-85, 5], "nice": false, "zero": false}, "axis": {"orient": "right", "values": [-80, -60, -40, -20, 0], "labels": false, "title": null, "grid": false}}}}
      ]
    }
  ]
}
